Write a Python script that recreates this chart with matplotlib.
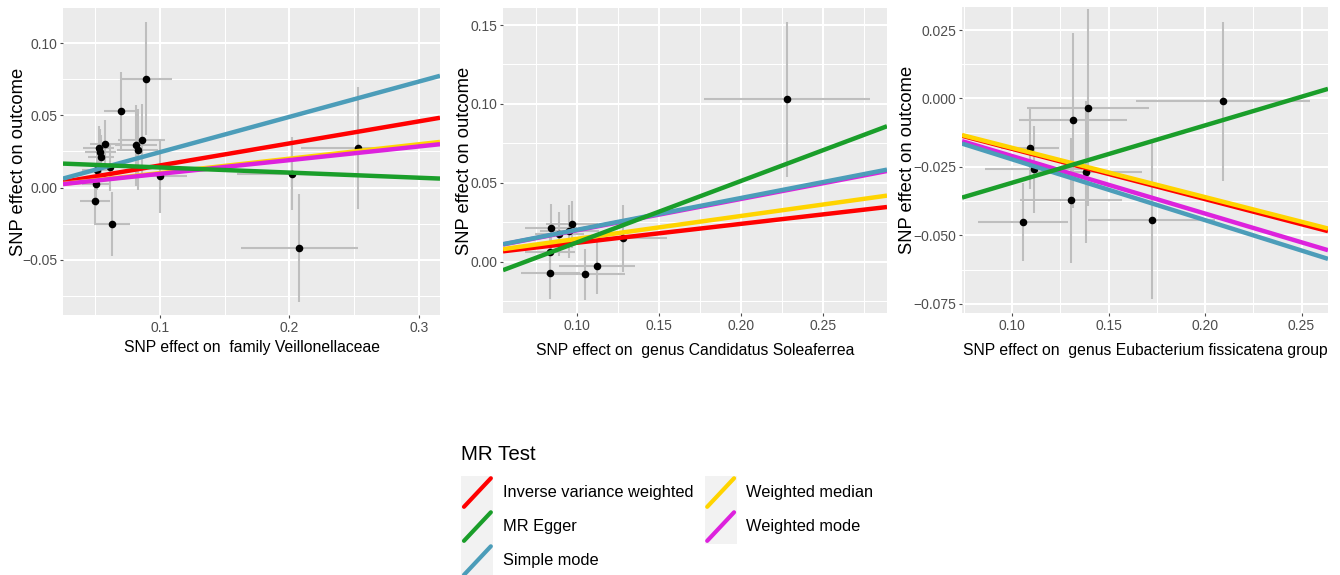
import matplotlib
matplotlib.use("Agg")
import matplotlib.pyplot as plt
from matplotlib.legend_handler import HandlerBase
from matplotlib.patches import Rectangle
from matplotlib.lines import Line2D
import numpy as np

plt.rcParams['font.family'] = ['Liberation Sans', 'DejaVu Sans']

# ---------------- data ----------------
methods = ["Inverse variance weighted", "MR Egger", "Simple mode",
           "Weighted median", "Weighted mode"]
method_colors = ["#FF0000", "#1A9E2A", "#4C9DB9", "#FFD400", "#DD22DD"]

# Panel 1: family Veillonellaceae
p1_bx = [0.0897, 0.0697, 0.0859, 0.0815, 0.0828, 0.0529, 0.0542, 0.0544, 0.0580,
         0.0518, 0.0614, 0.0510, 0.0500, 0.0632, 0.1000, 0.2017, 0.2076, 0.2533]
p1_by = [0.0755, 0.0530, 0.0332, 0.0293, 0.0263, 0.0277, 0.0247, 0.0212, 0.0300,
         0.0120, 0.0139, 0.0023, -0.0093, -0.0254, 0.0080, 0.0097, -0.0422, 0.0274]
p1_sex = [0.020, 0.0125, 0.018, 0.016, 0.016, 0.012, 0.012, 0.010, 0.012,
          0.012, 0.012, 0.011, 0.0115, 0.014, 0.021, 0.042, 0.045, 0.044]
p1_sey = [0.039, 0.027, 0.025, 0.028, 0.028, 0.015, 0.016, 0.015, 0.017,
          0.014, 0.016, 0.015, 0.016, 0.022, 0.026, 0.025, 0.0375, 0.042]
p1_slope = [0.153, -0.0357, 0.245, 0.100, 0.095]
p1_icpt = [0.0, 0.0175, 0.0, 0.0, 0.0]

# Panel 2: genus Candidatus Soleaferrea
p2_bx = [0.2280, 0.0843, 0.0894, 0.0955, 0.0971, 0.0837, 0.0837, 0.1052, 0.1124, 0.1280]
p2_by = [0.1029, 0.0213, 0.0174, 0.0192, 0.0237, 0.0063, -0.0074, -0.0080, -0.0025, 0.0148]
p2_sex = [0.0505, 0.016, 0.015, 0.018, 0.016, 0.015, 0.018, 0.024, 0.023, 0.027]
p2_sey = [0.049, 0.015, 0.014, 0.017, 0.015, 0.012, 0.016, 0.016, 0.018, 0.021]
p2_slope = [0.120, 0.390, 0.202, 0.145, 0.199]
p2_icpt = [0.0, -0.0268, 0.0, 0.0, 0.0]

# Panel 3: genus Eubacterium fissicatena group
p3_bx = [0.2094, 0.1393, 0.1315, 0.1095, 0.1112, 0.1384, 0.1307, 0.1057, 0.1724]
p3_by = [-0.0010, -0.0034, -0.0080, -0.0182, -0.0259, -0.0268, -0.0372, -0.0451, -0.0445]
p3_sex = [0.045, 0.0317, 0.028, 0.015, 0.025, 0.029, 0.0265, 0.0235, 0.033]
p3_sey = [0.029, 0.036, 0.032, 0.015, 0.016, 0.026, 0.0228, 0.0143, 0.0286]
p3_slope = [-0.1836, 0.2094, -0.222, -0.180, -0.210]
p3_icpt = [0.0, -0.0517, 0.0, 0.0, 0.0]

xlabels = ["SNP effect on  family Veillonellaceae",
           "SNP effect on  genus Candidatus Soleaferrea",
           "SNP effect on  genus Eubacterium fissicatena group"]
ylabel = "SNP effect on outcome"

p1_xticks = [0.1, 0.2, 0.3]
p1_xticklabels = ["0.1", "0.2", "0.3"]
p1_yticks = [-0.05, 0.0, 0.05, 0.10]
p1_yticklabels = ["\u22120.05", "0.00", "0.05", "0.10"]
p2_xticks = [0.10, 0.15, 0.20, 0.25]
p2_xticklabels = ["0.10", "0.15", "0.20", "0.25"]
p2_yticks = [0.0, 0.05, 0.10, 0.15]
p2_yticklabels = ["0.00", "0.05", "0.10", "0.15"]
p3_xticks = [0.10, 0.15, 0.20, 0.25]
p3_xticklabels = ["0.10", "0.15", "0.20", "0.25"]
p3_yticks = [-0.075, -0.05, -0.025, 0.0, 0.025]
p3_yticklabels = ["\u22120.075", "\u22120.050", "\u22120.025", "0.000", "0.025"]

# ---------------- figure ----------------
W, H = 1340, 575
fig = plt.figure(figsize=(W / 100, H / 100), dpi=100)
fig.patch.set_facecolor("white")


def px_axes(l, t, r, b):
    return fig.add_axes([l / W, 1 - b / H, (r - l) / W, (b - t) / H])


panels = [
    dict(box=(63, 8, 440, 315), bx=p1_bx, by=p1_by, sex=p1_sex, sey=p1_sey,
         slope=p1_slope, icpt=p1_icpt, xlim=(0.0253, 0.3162), ylim=(-0.0884, 0.1245),
         xt=p1_xticks, xtl=p1_xticklabels, yt=p1_yticks, ytl=p1_yticklabels,
         xlab=xlabels[0], xpad=4, ypad=-3.5),
    dict(box=(503, 8, 887, 313), bx=p2_bx, by=p2_by, sex=p2_sex, sey=p2_sey,
         slope=p2_slope, icpt=p2_icpt, xlim=(0.055, 0.2889), ylim=(-0.0325, 0.1608),
         xt=p2_xticks, xtl=p2_xticklabels, yt=p2_yticks, ytl=p2_yticklabels,
         xlab=xlabels[1], xpad=7.5, ypad=-1.5),
    dict(box=(962, 7, 1328, 313), bx=p3_bx, by=p3_by, sex=p3_sex, sey=p3_sey,
         slope=p3_slope, icpt=p3_icpt, xlim=(0.0741, 0.2637), ylim=(-0.0783, 0.0334),
         xt=p3_xticks, xtl=p3_xticklabels, yt=p3_yticks, ytl=p3_yticklabels,
         xlab=xlabels[2], xpad=7.5, ypad=-2),
]

draw_order = [0, 1, 3, 4, 2]  # red, green, yellow, magenta, blue
line_z = {0: 3.0, 1: 3.5, 3: 3.1, 4: 3.2, 2: 3.3}

for p in panels:
    ax = px_axes(*p["box"])
    ax.set_facecolor("#EBEBEB")
    for s in ax.spines.values():
        s.set_visible(False)
    xt = p["xt"]
    yt = p["yt"]
    ax.set_xticks(xt)
    ax.set_xticklabels(p["xtl"])
    ax.set_yticks(yt)
    ax.set_yticklabels(p["ytl"])
    dx = xt[1] - xt[0]
    dy = yt[1] - yt[0]
    xminor = np.arange(xt[0] - dx / 2 - 2 * dx, xt[-1] + 3 * dx, dx)
    yminor = np.arange(yt[0] - dy / 2 - 2 * dy, yt[-1] + 3 * dy, dy)
    ax.set_xticks(xminor, minor=True)
    ax.set_yticks(yminor, minor=True)
    ax.set_xlim(*p["xlim"])
    ax.set_ylim(*p["ylim"])
    ax.grid(which="major", color="white", linewidth=1.5)
    ax.grid(which="minor", color="white", linewidth=0.75)
    ax.set_axisbelow(True)
    ax.tick_params(which="minor", length=0)
    ax.tick_params(which="major", length=2.0, width=0.8, color="#4D4D4D",
                   labelcolor="#4D4D4D", labelsize=10, pad=2)
    ax.set_xlabel(p["xlab"], fontsize=11.3, color="black", labelpad=p["xpad"])
    ax.set_ylabel(ylabel, fontsize=13.2, color="black", labelpad=p["ypad"])

    ax.errorbar(p["bx"], p["by"], xerr=p["sex"], yerr=p["sey"], fmt="none",
                ecolor="#BEBEBE", elinewidth=1.5, capsize=0, zorder=2)
    ax.scatter(p["bx"], p["by"], s=30, color="black", zorder=2.5, linewidths=0)
    for i in draw_order:
        ax.axline((0.0, p["icpt"][i]), slope=p["slope"][i], color=method_colors[i],
                  linewidth=3.2, zorder=line_z[i], solid_capstyle="butt")


# ---------------- legend ----------------
class DiagHandler(HandlerBase):
    def create_artists(self, legend, orig_handle, xdescent, ydescent, width,
                       height, fontsize, trans):
        x0, y0 = -xdescent, -ydescent
        bg = Rectangle((x0, y0), width, height, facecolor="#F2F2F2",
                       edgecolor="none", transform=trans)
        m = 0.08
        ln = Line2D([x0 + m * width, x0 + (1 - m) * width],
                    [y0 + m * height, y0 + (1 - m) * height],
                    color=orig_handle.get_color(), linewidth=3.0,
                    solid_capstyle="round", transform=trans)
        return [bg, ln]


handles = [Line2D([], [], color=c) for c in method_colors]
leg = fig.legend(handles, methods, ncol=2, loc="upper left",
                 bbox_to_anchor=(450 / W, 1 - 434 / H),
                 frameon=False, title="MR Test", title_fontsize=14.8,
                 fontsize=11.75, handler_map={Line2D: DiagHandler()},
                 handlelength=1.96, handleheight=2.83, labelspacing=0.0,
                 handletextpad=0.6, columnspacing=0.67, borderpad=0.2,
                 alignment="left")
leg._legend_box.sep = 8

fig.savefig("out.png", dpi=100, facecolor="white")
